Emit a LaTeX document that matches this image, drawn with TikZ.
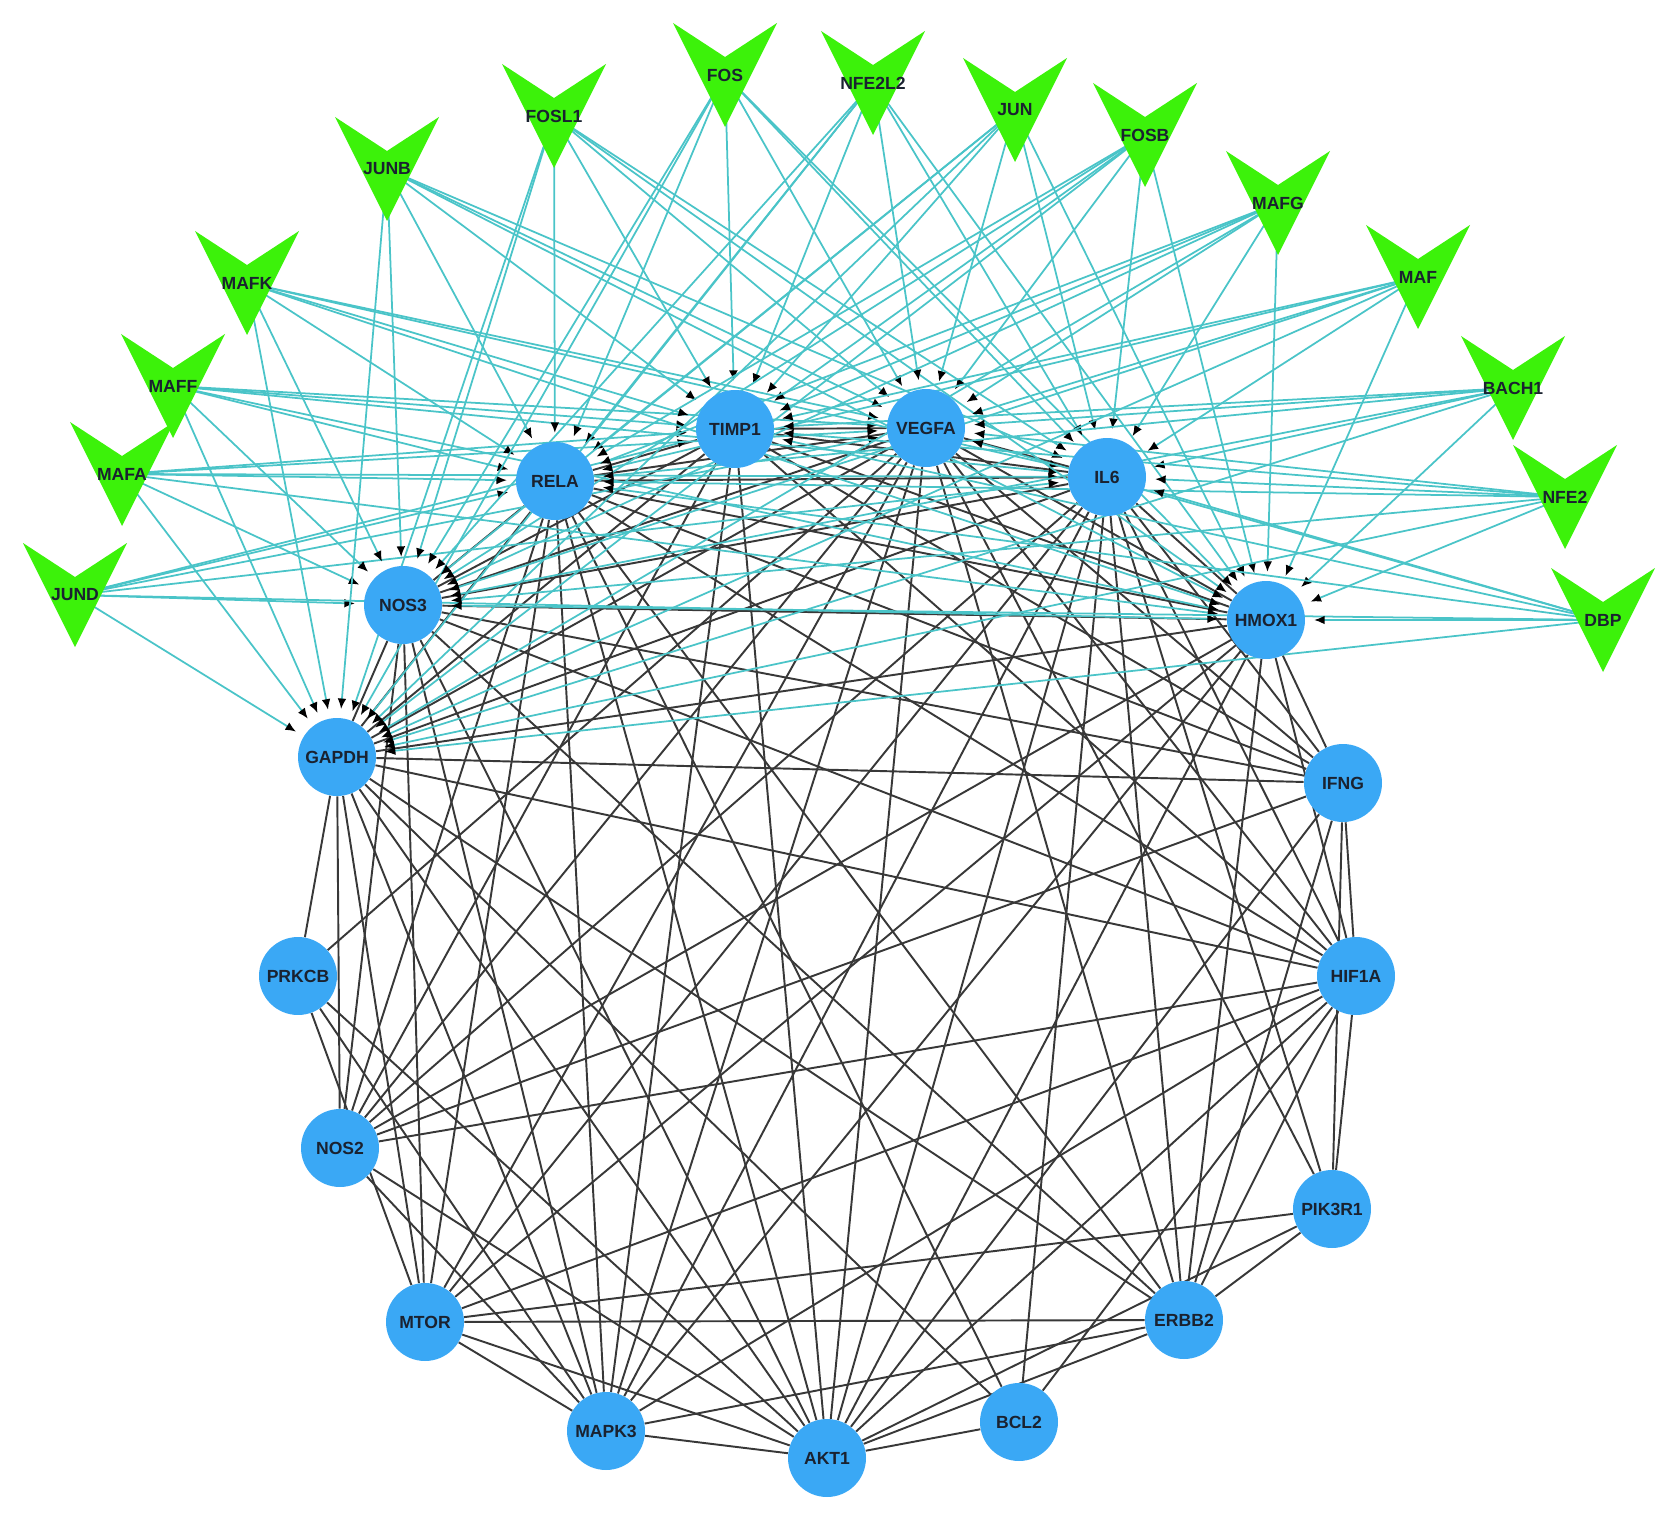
\documentclass[tikz,border=0pt]{standalone}
\usepackage{fontspec}
\setmainfont{Liberation Sans}
\usepackage{tikz}
\usetikzlibrary{arrows.meta, backgrounds}
\definecolor{genefill}{HTML}{3AA8F5}
\definecolor{tfgreen}{HTML}{3CF20A}
\definecolor{regline}{HTML}{4AC4C8}
\definecolor{ppiline}{HTML}{383838}
\definecolor{labeltext}{HTML}{1A2230}

\begin{document}
\begin{tikzpicture}[x=0.02cm, y=-0.02cm,
    gene/.style={circle, fill=genefill, minimum size=1.56cm, inner sep=0pt, text=labeltext, font=\fontsize{10}{12}\selectfont\bfseries},
    tf/.style={inner sep=1pt, text=labeltext, font=\fontsize{10}{12}\selectfont\bfseries},
    ppi/.style={draw=ppiline, line width=1.1pt},
    reg/.style={draw=regline, line width=1pt, -{Latex[color=black, length=6pt, width=5pt]}, shorten >=5pt},
]
    \useasboundingbox (0,0) rectangle (1677,1520);
    % Genes (blue)
    \foreach \n/\x/\y in {TIMP1/735/429, VEGFA/926/428, RELA/555/481, IL6/1107/477,
        NOS3/403/605, HMOX1/1266/620, GAPDH/337/757, IFNG/1343/783,
        PRKCB/298/976, HIF1A/1356/976, NOS2/340/1148, PIK3R1/1332/1209,
        MTOR/425/1322, ERBB2/1184/1320, MAPK3/606/1431, AKT1/827/1458, BCL2/1019/1422} {
        \node[gene] (\n) at (\x,\y) {\n};
    }
    % Transcription factors (green)
    \foreach \n/\x/\y in {JUND/75/595, MAFA/122/474, MAFF/173/386, MAFK/247/283,
        JUNB/387/169, FOSL1/554/116, FOS/725/75, NFE2L2/873/83, JUN/1015/110,
        FOSB/1145/135, MAFG/1278/203, MAF/1418/277, BACH1/1513/388,
        NFE2/1565/497, DBP/1603/620} {
        \fill[tfgreen] (\x-52,\y-52) -- (\x,\y-18) -- (\x+52,\y-52) -- (\x,\y+52) -- cycle;
        \node[tf] (\n) at (\x,\y) {\n};
    }
    % Edges
    \begin{scope}[on background layer]
    \foreach \a/\b in {TIMP1/VEGFA, TIMP1/RELA, TIMP1/IL6, TIMP1/HMOX1, TIMP1/NOS3, TIMP1/GAPDH,
        VEGFA/RELA, VEGFA/IL6, VEGFA/HMOX1, VEGFA/NOS3, VEGFA/GAPDH,
        RELA/IL6, RELA/HMOX1, RELA/NOS3, RELA/GAPDH,
        IL6/HMOX1, IL6/NOS3, IL6/GAPDH, NOS3/HMOX1, NOS3/GAPDH, HMOX1/GAPDH,
        IFNG/GAPDH, IFNG/IL6, IFNG/RELA, IFNG/HMOX1, IFNG/NOS3, IFNG/TIMP1, IFNG/VEGFA,
        IFNG/NOS2, IFNG/HIF1A, IFNG/ERBB2, IFNG/PIK3R1, IFNG/AKT1,
        HIF1A/GAPDH, HIF1A/VEGFA, HIF1A/IL6, HIF1A/RELA, HIF1A/HMOX1, HIF1A/NOS3, HIF1A/TIMP1,
        HIF1A/NOS2, HIF1A/MTOR, HIF1A/MAPK3, HIF1A/AKT1, HIF1A/ERBB2, HIF1A/PIK3R1, HIF1A/BCL2,
        PRKCB/GAPDH, PRKCB/VEGFA, PRKCB/MTOR, PRKCB/MAPK3, PRKCB/AKT1,
        NOS2/GAPDH, NOS2/NOS3, NOS2/IL6, NOS2/VEGFA, NOS2/RELA, NOS2/HMOX1, NOS2/AKT1, NOS2/MAPK3, NOS2/TIMP1,
        PIK3R1/ERBB2, PIK3R1/AKT1, PIK3R1/MTOR, PIK3R1/VEGFA, PIK3R1/IL6,
        MTOR/GAPDH, MTOR/VEGFA, MTOR/IL6, MTOR/RELA, MTOR/NOS3, MTOR/HMOX1, MTOR/ERBB2, MTOR/AKT1, MTOR/MAPK3,
        ERBB2/VEGFA, ERBB2/IL6, ERBB2/RELA, ERBB2/GAPDH, ERBB2/MAPK3, ERBB2/AKT1, ERBB2/HMOX1, ERBB2/NOS3,
        MAPK3/GAPDH, MAPK3/VEGFA, MAPK3/IL6, MAPK3/TIMP1, MAPK3/RELA, MAPK3/NOS3, MAPK3/HMOX1, MAPK3/AKT1,
        AKT1/GAPDH, AKT1/VEGFA, AKT1/IL6, AKT1/TIMP1, AKT1/RELA, AKT1/NOS3, AKT1/HMOX1, AKT1/BCL2,
        BCL2/RELA, BCL2/IL6, BCL2/GAPDH} {
        \draw[ppi] (\a) -- (\b);
    }
    \foreach \t in {JUND, MAFA, MAFF, MAFK, JUNB, FOSL1, FOS, NFE2L2, JUN, FOSB, MAFG, MAF, BACH1, NFE2, DBP} {
        \foreach \g in {TIMP1, VEGFA, RELA, IL6, NOS3, HMOX1, GAPDH} {
            \draw[reg] (\t.center) -- (\g);
        }
    }
    \end{scope}
\end{tikzpicture}
\end{document}
